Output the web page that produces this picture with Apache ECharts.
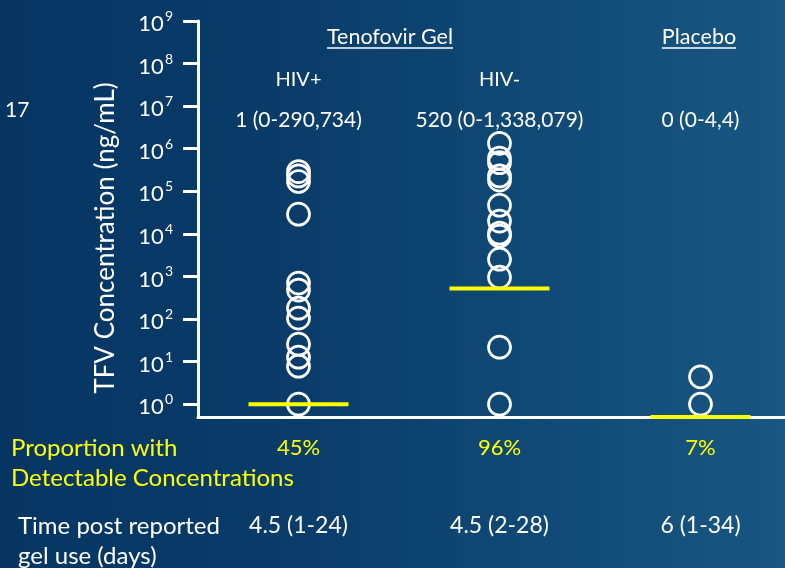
<!DOCTYPE html>
<html>
<head>
<meta charset="utf-8">
<script src="https://cdn.jsdelivr.net/npm/echarts@6/dist/echarts.min.js"></script>
<style>
  html, body { margin: 0; padding: 0; }
  body {
    width: 785px; height: 568px; overflow: hidden;
    background: linear-gradient(90deg, #063562 0%, #0a3d6a 40%, #185782 100%);
  }
  #chart { width: 785px; height: 568px; }
</style>
</head>
<body>
<div id="chart"></div>
<script>
// Study groups and per-group summary rows
const groups = ['HIV+', 'HIV-', 'Placebo'];
const subgroupLabels = ['HIV+', 'HIV-', ''];
const medianRanges = ['1 (0-290,734)', '520 (0-1,338,079)', '0 (0-4,4)'];
const detectable = ['45%', '96%', '7%'];
const timePost = ['4.5 (1-24)', '4.5 (2-28)', '6 (1-34)'];

// Individual TFV concentrations (ng/mL)
const hivPos = [290734, 230000, 170000, 29000, 700, 480, 180, 105, 25.7, 12.7, 7.8, 1];
const hivNeg = [1338079, 600000, 470000, 230000, 183000, 47000, 20000, 10400, 8900, 2550, 964, 21.8, 1];
const placebo = [4.4, 1];
const medians = [1, 520, 0];

// Axis ticks
const yTicks = [1, 10, 100, 1e3, 1e4, 1e5, 1e6, 1e7, 1e8, 1e9];
const Y_MIN = 0.5;
const Y_MAX = 1e9;

const FONT = 'Lato, "Open Sans", sans-serif';
const WHITE = '#ffffff';
const YELLOW = '#ffff00';

const chart = echarts.init(document.getElementById('chart'), null, { renderer: 'canvas' });

function textRow(data, position, offset, color, size) {
  return {
    type: 'category',
    gridIndex: 0,
    data: data,
    position: position,
    offset: offset,
    axisLine: { show: false, onZero: false },
    axisTick: { show: false },
    splitLine: { show: false },
    axisLabel: {
      interval: 0, margin: 0, verticalAlign: 'middle',
      color: color, fontSize: size, fontFamily: FONT
    }
  };
}

const pointsOf = (name, vals) => vals.map(v => [name, v]);
// A zero concentration sits on the floor of the log axis
const medianData = medians.map((m, i) => [groups[i], Math.max(m, Y_MIN)]);

function measure(text, size) {
  const ctx = document.createElement('canvas').getContext('2d');
  ctx.font = size + 'px ' + FONT;
  return ctx.measureText(text).width;
}

function label(text, x, y, size, color, extra) {
  return Object.assign({
    type: 'text', x: x, y: y,
    style: { text: text, fill: color, font: size + 'px ' + FONT, textAlign: 'left', textVerticalAlign: 'middle' }
  }, extra || {});
}

function heading(text, cx, cy, size) {
  const w = measure(text, size);
  return {
    type: 'group',
    children: [
      { type: 'text', x: cx, y: cy,
        style: { text: text, fill: WHITE, font: size + 'px ' + FONT, textAlign: 'center', textVerticalAlign: 'middle' } },
      { type: 'rect', shape: { x: cx - w / 2, y: cy + size * 0.48, width: w, height: 1.5 },
        style: { fill: WHITE } }
    ]
  };
}

const circleStyle = { color: 'transparent', borderColor: WHITE, borderWidth: 2.7, opacity: 1 };

const option = {
  animation: false,
  backgroundColor: 'transparent',
  grid: { left: 198, top: 21, width: 603, height: 396, outerBoundsMode: 'none', containLabel: false },
  xAxis: [
    {
      type: 'category',
      data: groups,
      position: 'bottom',
      axisLine: { show: true, onZero: false, lineStyle: { color: WHITE, width: 3 } },
      axisTick: { show: false },
      axisLabel: { show: false },
      splitLine: { show: false }
    },
    textRow(subgroupLabels, 'top', -59, WHITE, 20),
    textRow(medianRanges, 'top', -99, WHITE, 21),
    textRow(detectable, 'bottom', 31, YELLOW, 22),
    textRow(timePost, 'bottom', 109, WHITE, 23)
  ],
  yAxis: {
    type: 'log',
    logBase: 10,
    min: Y_MIN,
    max: Y_MAX,
    axisLine: { show: true, lineStyle: { color: WHITE, width: 3 } },
    axisTick: { show: true, length: 15, customValues: yTicks, lineStyle: { color: WHITE, width: 3 } },
    axisLabel: {
      customValues: yTicks,
      margin: 25,
      formatter: v => '{b|10}{s|' + Math.round(Math.log10(v)) + '}',
      rich: {
        b: { color: WHITE, fontSize: 22, fontFamily: FONT, padding: [6, 0, 0, 0] },
        s: { color: WHITE, fontSize: 14, fontFamily: FONT, padding: [0, 0, 9, 1] }
      }
    },
    splitLine: { show: false }
  },
  series: [
    {
      type: 'scatter', name: 'HIV+',
      data: pointsOf(groups[0], hivPos),
      symbol: 'circle', symbolSize: 22,
      itemStyle: circleStyle,
      clip: false
    },
    {
      type: 'scatter', name: 'HIV-',
      data: pointsOf(groups[1], hivNeg),
      symbol: 'circle', symbolSize: 22,
      itemStyle: circleStyle,
      clip: false
    },
    {
      type: 'scatter', name: 'Placebo',
      data: pointsOf(groups[2], placebo),
      symbol: 'circle', symbolSize: 22,
      itemStyle: circleStyle,
      clip: false
    },
    {
      type: 'scatter', name: 'Median',
      data: medianData,
      symbol: 'rect', symbolSize: [100, 4],
      itemStyle: { color: YELLOW, opacity: 1 },
      z: 5,
      clip: false
    }
  ],
  graphic: [
    label('17', 5, 110, 21, WHITE),
    label('TFV Concentration (ng/mL)', 106, 238, 26, WHITE,
      { rotation: Math.PI / 2, style: { text: 'TFV Concentration (ng/mL)', fill: WHITE, font: '26px ' + FONT, textAlign: 'center', textVerticalAlign: 'middle' } }),
    heading('Tenofovir Gel', 390, 37, 21.5),
    heading('Placebo', 699, 37, 21.5),
    label('Proportion with', 11, 448, 24, YELLOW),
    label('Detectable Concentrations', 11, 478, 24, YELLOW),
    label('Time post reported', 18, 526, 24, WHITE),
    label('gel use (days)', 18, 556, 24, WHITE)
  ]
};

chart.setOption(option);
</script>
</body>
</html>
